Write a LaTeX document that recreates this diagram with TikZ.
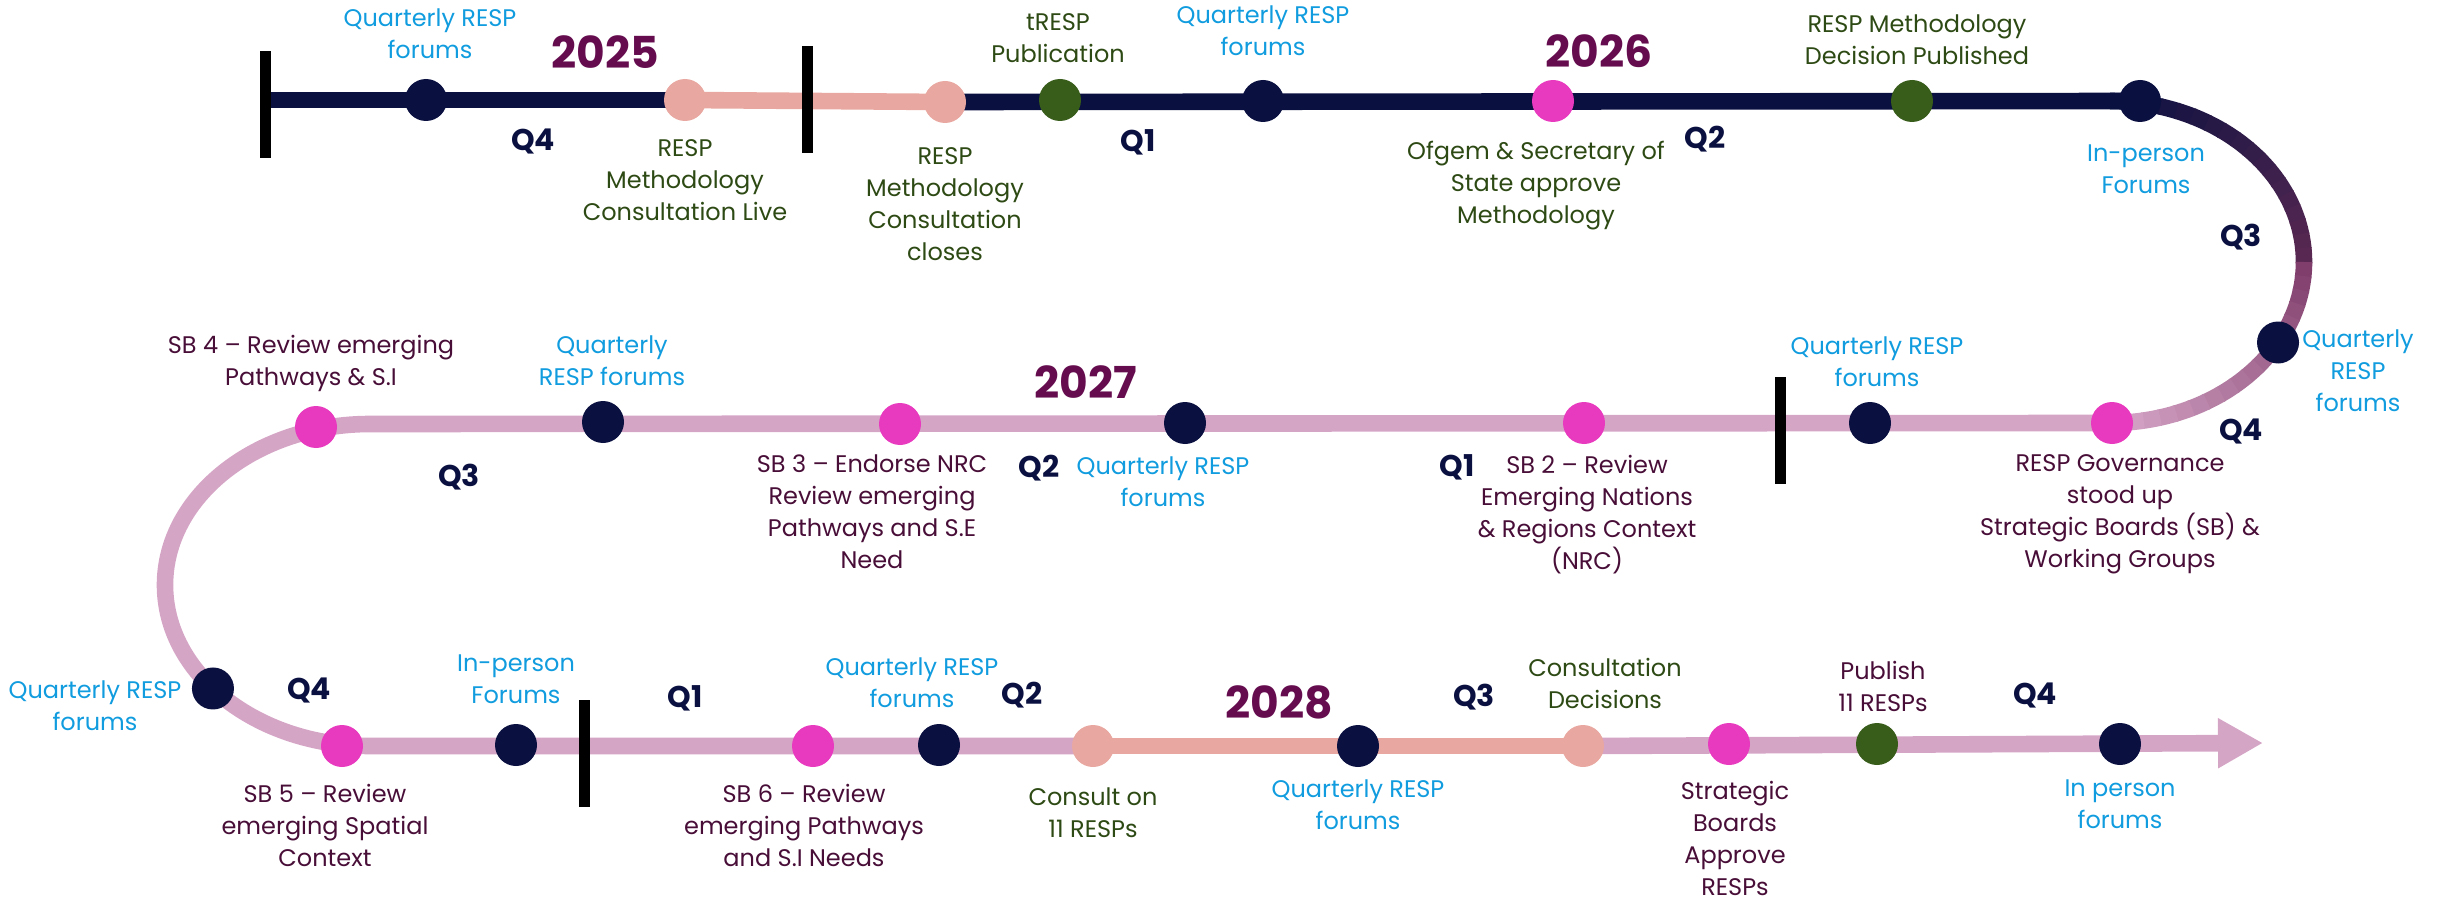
\documentclass[tikz,border=0pt]{standalone}
\usepackage{fontspec}
\setmainfont{Poppins}
\usetikzlibrary{calc,backgrounds,arrows.meta}
\definecolor{navy4}{RGB}{10,16,64}
\definecolor{salmon4}{RGB}{232,167,160}
\definecolor{lilac4}{RGB}{213,165,198}
\definecolor{magenta4}{RGB}{232,58,190}
\definecolor{green4}{RGB}{56,92,26}
\definecolor{olive4}{RGB}{46,74,20}
\definecolor{blue4}{RGB}{16,156,222}
\definecolor{plum4}{RGB}{72,14,56}
\definecolor{wine4}{RGB}{100,12,78}
\definecolor{dusk4}{RGB}{88,40,82}
\definecolor{mauve4}{RGB}{128,62,108}

\begin{document}
\begin{tikzpicture}[x=0.5pt, y=-0.5pt,
	dot/.style=		{circle, inner sep=0pt, minimum size=21pt},
	forumdot/.style=	{dot, fill=navy4},
	sbdot/.style=		{dot, fill=magenta4},
	consultdot/.style=	{dot, fill=salmon4},
	pubdot/.style=		{dot, fill=green4},
	tickbar/.style=		{rectangle, fill=black, inner sep=0pt, minimum width=5.5pt, minimum height=53.5pt},
	eventtext/.style=	{align=center, inner sep=0pt, font=\fontsize{12}{16}\selectfont},
	forumtext/.style=	{eventtext, text=blue4},
	sbtext/.style=		{eventtext, text=plum4},
	methtext/.style=	{eventtext, text=olive4},
	yeartext/.style=	{inner sep=0pt, font=\fontsize{22}{24}\selectfont\bfseries, text=wine4},
	qtext/.style=		{inner sep=0pt, font=\fontsize{15}{16}\selectfont\bfseries, text=navy4},
	track/.style=		{line width=8.3pt}]
	\def\rx{194}
	\def\ry{161}
	\def\lx{205}
	\def\ly{161}
	\useasboundingbox (0,0) rectangle (2438,899);
	\coordinate (rc) at (2110,262);
	\coordinate (lc) at (370,585);
	\coordinate (ltop) at ($(lc)+(0,-\ly)$);

	% 2025 - 2026
	\node[tickbar] (tickA) at (265,105) {};
	\node[tickbar] (tickB) at (807,100) {};
	\node[forumdot] (T1) at (426,100) {};
	\node[consultdot] (T2) at (685,100) {};
	\node[consultdot] (T3) at (945,102) {};
	\node[pubdot] (T4) at (1060,100) {};
	\node[forumdot] (T5) at (1263,101) {};
	\node[sbdot] (T6) at (1553,101) {};
	\node[pubdot] (T7) at (1912,101) {};
	\node[forumdot] (T8) at (2140,101) {};

	\node[forumtext] (fT1) at (430,34) {Quarterly RESP\\forums};
	\node[yeartext] (y25) at (605,52) {2025};
	\node[qtext] (qT1) at (533,142) {Q4};
	\node[methtext] (mT2) at (685,180) {RESP\\Methodology\\Consultation Live};
	\node[methtext] (mT3) at (945,204) {RESP\\Methodology\\Consultation\\closes};
	\node[methtext] (mT4) at (1058,38) {tRESP\\Publication};
	\node[qtext] (qT2) at (1138,142) {Q1};
	\node[forumtext] (fT5) at (1263,31) {Quarterly RESP\\forums};
	\node[yeartext] (y26) at (1599,51) {2026};
	\node[methtext] (mT6) at (1536,186) {Ofgem \& Secretary of\\State approve\\Methodology};
	\node[qtext] (qT3) at (1705,139) {Q2};
	\node[methtext] (mT7) at (1917,40) {RESP Methodology\\Decision Published};
	\node[forumtext] (fT8) at (2146,169) {In-person\\Forums};
	\node[qtext] (qT4) at (2241,237) {Q3};

	% 2026 - 2027
	\node[forumdot] (M1) at ($(rc)+({\rx*cos(30)},{\ry*sin(30)})$) {};
	\node[sbdot] (M2) at (2112,423) {};
	\node[forumdot] (M3) at (1870,423) {};
	\node[tickbar] (tickC) at (1780,430) {};
	\node[sbdot] (M4) at (1584,423) {};
	\node[forumdot] (M5) at (1185,423) {};
	\node[sbdot] (M6) at (900,424) {};
	\node[forumdot] (M7) at (603,422) {};
	\node[sbdot] (M8) at (316,427) {};

	\node[forumtext] (fM1) at (2358,371) {Quarterly\\RESP\\forums};
	\node[qtext] (qM1) at (2241,431) {Q4};
	\node[sbtext] (sM2) at (2120,514) {RESP Governance\\stood up\\Strategic Boards (SB) \&\\Working Groups};
	\node[forumtext] (fM3) at (1877,362) {Quarterly RESP\\forums};
	\node[sbtext] (sM4) at (1587,515) {SB 2 – Review\\Emerging Nations\\\& Regions Context\\(NRC)};
	\node[qtext] (qM2) at (1457,467) {Q1};
	\node[forumtext] (fM5) at (1163,482) {Quarterly RESP\\forums};
	\node[yeartext] (y27) at (1086,382) {2027};
	\node[qtext] (qM3) at (1039,468) {Q2};
	\node[sbtext] (sM6) at (872,512) {SB 3 – Endorse NRC\\Review emerging\\Pathways and S.E\\Need};
	\node[forumtext] (fM7) at (612,361) {Quarterly\\RESP forums};
	\node[qtext] (qM4) at (459,477) {Q3};
	\node[sbtext] (sM8) at (311,363) {SB 4 – Review emerging\\Pathways \& S.I};

	% 2027 - 2028
	\node[forumdot] (B1) at ($(lc)+({\lx*cos(140)},{\ly*sin(140)})$) {};
	\node[sbdot] (B2) at (342,746) {};
	\node[forumdot] (B3) at (516,745) {};
	\node[tickbar] (tickD) at (584,753) {};
	\node[sbdot] (B4) at (813,746) {};
	\node[forumdot] (B5) at (939,745) {};
	\node[consultdot] (B6) at (1093,746) {};
	\node[forumdot] (B7) at (1358,746) {};
	\node[consultdot] (B8) at (1583,746) {};
	\node[sbdot] (B9) at (1729,744) {};
	\node[pubdot] (B10) at (1877,744) {};
	\node[forumdot] (B11) at (2120,744) {};
	\coordinate (arrowend) at (2263,743);

	\node[forumtext] (fB1) at (95,706) {Quarterly RESP\\forums};
	\node[qtext] (qB1) at (309,690) {Q4};
	\node[sbtext] (sB2) at (325,825) {SB 5 – Review\\emerging Spatial\\Context};
	\node[forumtext] (fB3) at (516,679) {In-person\\Forums};
	\node[qtext] (qB2) at (685,698) {Q1};
	\node[sbtext] (sB4) at (804,825) {SB 6 – Review\\emerging Pathways\\and S.I Needs};
	\node[forumtext] (fB5) at (912,683) {Quarterly RESP\\forums};
	\node[qtext] (qB3) at (1022,695) {Q2};
	\node[methtext] (mB6) at (1093,813) {Consult on\\11 RESPs};
	\node[yeartext] (y28) at (1279,702) {2028};
	\node[forumtext] (fB7) at (1358,805) {Quarterly RESP\\forums};
	\node[qtext] (qB4) at (1474,697) {Q3};
	\node[methtext] (mB8) at (1605,683) {Consultation\\Decisions};
	\node[sbtext] (sB9) at (1735,838) {Strategic\\Boards\\Approve\\RESPs};
	\node[sbtext] (sB10) at (1883,686) {Publish\\11 RESPs};
	\node[qtext] (qB5) at (2035,695) {Q4};
	\node[forumtext] (fB11) at (2120,804) {In person\\forums};

	% the track
	\begin{scope}[on background layer]
		\draw[track, navy4] (tickA |- T1) -- (T2.center);
		\draw[track, salmon4] (T2.center) -- (T3.center);
		\draw[track, navy4] (T3.center) -- (T8.center);
		\foreach \i in {0,...,17}{
			\pgfmathtruncatemacro{\mix}{100-\i*100/17}
			\draw[track, navy4!\mix!dusk4] ($(rc)+({\rx*cos(-90+5*\i)},{\ry*sin(-90+5*\i)})$)
				arc[start angle=-90+5*\i, end angle=-84.5+5*\i, x radius=\rx, y radius=\ry];
		}
		\foreach \i in {18,...,35}{
			\pgfmathtruncatemacro{\mix}{(\i-18)*100/17}
			\draw[track, lilac4!\mix!mauve4] ($(rc)+({\rx*cos(-90+5*\i)},{\ry*sin(-90+5*\i)})$)
				arc[start angle=-90+5*\i, end angle=-84.5+5*\i, x radius=\rx, y radius=\ry];
		}
		\draw[track, lilac4] (M2.center) -- (ltop) arc[start angle=270, end angle=90, x radius=\lx, y radius=\ly] -- (B6.center);
		\draw[track, salmon4] (B6.center) -- (B8.center);
		\draw[track, lilac4, -{Triangle[length=22.5pt, width=23.5pt]}] (B8.center) -- (arrowend);
	\end{scope}
\end{tikzpicture}
\end{document}
